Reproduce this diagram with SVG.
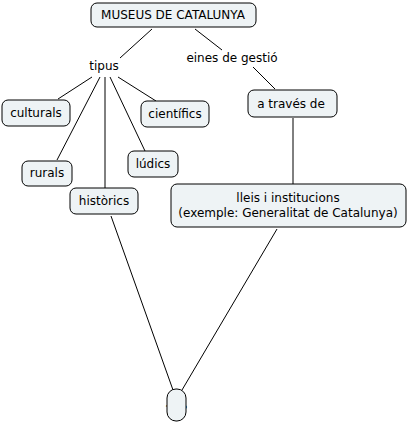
<svg xmlns="http://www.w3.org/2000/svg" width="410" height="423" viewBox="0 0 410 423">
<style>
.n{fill:#eef3f5;stroke:#000;stroke-width:1}
text{font-family:"DejaVu Sans",Verdana,sans-serif;font-size:12px;fill:#000;text-anchor:middle}
.c line{stroke:#000;stroke-width:1}
</style>
<rect width="410" height="423" fill="#fff"/>
<g class="c" id="connectors">
<line x1="152" y1="29" x2="120" y2="58"/>
<line x1="195" y1="29" x2="222" y2="50"/>
<line x1="253" y1="67" x2="275" y2="89"/>
<line x1="293" y1="118" x2="293" y2="184"/>
<line x1="92" y1="77" x2="58" y2="99"/>
<line x1="118" y1="77" x2="156" y2="101"/>
<line x1="100" y1="77" x2="57" y2="160"/>
<line x1="105" y1="77" x2="105" y2="188"/>
<line x1="110" y1="77" x2="145" y2="151"/>
<line x1="111" y1="216" x2="173" y2="390"/>
<line x1="277" y1="229" x2="182" y2="390"/>
</g>
<g id="n-museus"><rect class="n" x="91" y="3" width="165" height="24" rx="6"/><text x="173" y="19">MUSEUS DE CATALUNYA</text></g>
<g id="n-tipus"><text x="104" y="70">tipus</text></g>
<g id="n-eines"><text x="232" y="62">eines de gestió</text></g>
<g id="n-culturals"><rect class="n" x="2" y="100" width="68" height="26" rx="6"/><text x="36" y="117">culturals</text></g>
<g id="n-cientifics"><rect class="n" x="141" y="101" width="68" height="26" rx="6"/><text x="175" y="118">científics</text></g>
<g id="n-rurals"><rect class="n" x="22" y="161" width="50" height="25" rx="6"/><text x="47" y="177">rurals</text></g>
<g id="n-ludics"><rect class="n" x="128" y="151" width="50" height="26" rx="6"/><text x="153" y="168">lúdics</text></g>
<g id="n-historics"><rect class="n" x="70" y="188" width="68" height="26" rx="6"/><text x="104" y="205">històrics</text></g>
<g id="n-atraves"><rect class="n" x="248" y="90" width="89" height="27" rx="6"/><text x="291" y="108">a través de</text></g>
<g id="n-lleis"><rect class="n" x="171" y="184" width="235" height="43" rx="6"/><text x="288" y="202">lleis i institucions</text><text x="288" y="217">(exemple: Generalitat de Catalunya)</text></g>
<g id="n-bottom"><text x="177" y="414" style="letter-spacing:1.5px">???</text><rect class="n" x="167" y="389" width="19" height="32" rx="9"/></g>
</svg>
